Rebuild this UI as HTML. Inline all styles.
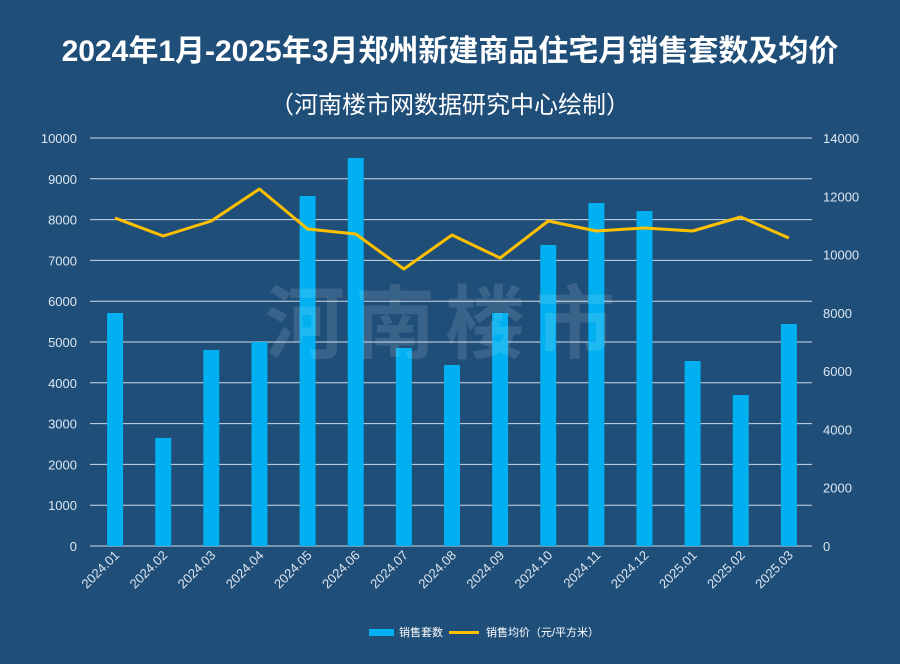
<!DOCTYPE html>
<html><head><meta charset="utf-8">
<style>
html,body{margin:0;padding:0;background:#1f4e79;}
svg{display:block;font-family:"Liberation Sans","Noto Sans CJK SC",sans-serif;}
</style></head>
<body>
<svg id="c" width="900" height="664" viewBox="0 0 900 664" xmlns="http://www.w3.org/2000/svg">
<rect width="900" height="664" fill="#1f4e79"/>
<text x="450" y="61" text-anchor="middle" fill="#fff" font-size="30" font-weight="bold">2024年1月-2025年3月郑州新建商品住宅月销售套数及均价</text>
<text x="450" y="113" text-anchor="middle" fill="#fff" font-size="24">（河南楼市网数据研究中心绘制）</text>
<g id="g"></g>
<text x="445" y="352" text-anchor="middle" fill="#ffffff" fill-opacity="0.12" font-size="80" font-weight="bold" letter-spacing="10">河南楼市</text>
<g font-size="11">
<rect x="369" y="629" width="25" height="7" fill="#00b0f0"/>
<text x="399" y="636" fill="#fff">销售套数</text>
<rect x="449" y="631" width="30" height="3" fill="#ffc000"/>
<text x="486" y="636" fill="#fff">销售均价（元/平方米）</text>
</g>
</svg>
<script>
var g=document.getElementById('g'),h='';
var Y0=546,YT=138;
for(var i=0;i<=10;i++){var y=Y0-(Y0-YT)*i/10;
h+='<line x1="90" x2="812" y1="'+y+'" y2="'+y+'" stroke="#d0dae6" stroke-width="1"/>';
h+='<text x="77" y="'+(y+5)+'" text-anchor="end" fill="#dce6f0" font-size="13">'+(i*1000)+'</text>';}
for(var i=0;i<=7;i++){var y=Y0-(Y0-YT)*i/7;
h+='<text x="823" y="'+(y+5)+'" fill="#dce6f0" font-size="13">'+(i*2000)+'</text>';}
var labs=['2024.01','2024.02','2024.03','2024.04','2024.05','2024.06','2024.07','2024.08','2024.09','2024.10','2024.11','2024.12','2025.01','2025.02','2025.03'];
var bt=[313,438,350,342,196,158,348,365,313,245,203,211,361,395,324];
var lt=[218,236,221,189,229,234,269,235,258,221,231,228,231,217,238];
var pts=[];
for(var i=0;i<15;i++){var cx=91+48.13*(i+0.5);
h+='<rect x="'+(cx-8)+'" y="'+bt[i]+'" width="16" height="'+(Y0-bt[i])+'" fill="#00b0f0"/>';
h+='<text transform="translate('+(cx+5)+',556) rotate(-45)" text-anchor="end" fill="#dce6f0" font-size="13">'+labs[i]+'</text>';
pts.push(cx+','+lt[i]);}
h+='<polyline points="'+pts.join(' ')+'" fill="none" stroke="#ffc000" stroke-width="3" stroke-linejoin="round"/>';
g.innerHTML=h;
</script>
</body></html>
